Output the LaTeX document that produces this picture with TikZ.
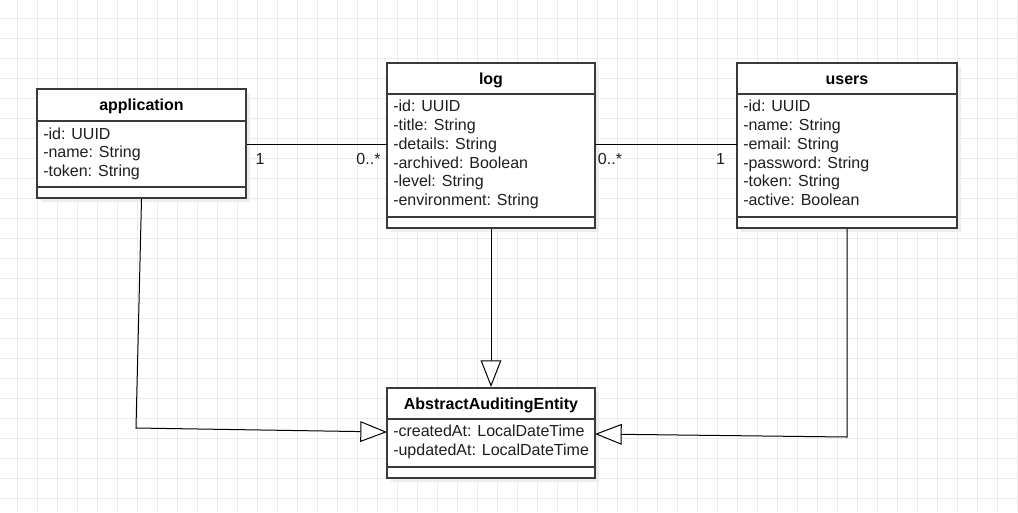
\documentclass[tikz,border=0pt]{standalone}
\usepackage{fontspec}
\setmainfont{Liberation Sans}
\usetikzlibrary{fit,shadows,arrows.meta}
\definecolor{gridc}{HTML}{EBEBEB}
\definecolor{boxc}{HTML}{3A3A3A}
\definecolor{txt}{HTML}{1E1E1E}
\definecolor{shad}{HTML}{EDEDED}
\tikzset{
  cls/.style={draw=boxc, line width=1.5pt, fill=white, inner sep=0pt,
    drop shadow={shadow xshift=3pt, shadow yshift=-3pt, fill=shad, opacity=1}},
  sep/.style={draw=boxc, line width=1.2pt},
  attr/.style={anchor=base west, inner sep=0pt, text=txt, font=\fontsize{12}{14}\selectfont},
  ttl/.style={anchor=base, inner sep=0pt, text=black, font=\fontsize{12}{14}\selectfont\bfseries},
  mult/.style={anchor=base, inner sep=0pt, text=txt, font=\fontsize{12}{14}\selectfont},
  assoc/.style={draw=black, line width=0.75pt},
  gen/.style={draw=black, line width=0.75pt, -{Triangle[open, length=20pt, width=15.5pt, fill=white]}}
}
\begin{document}
\begin{tikzpicture}[x=0.75pt, y=-0.75pt]
\useasboundingbox (0,0) rectangle (1018,512);
\fill[white] (0,0) rectangle (1018,512);
% grid
\foreach \gx in {17.3,37.3,...,1018} {\draw[gridc, line width=0.75pt] (\gx,0) -- (\gx,512);}
\foreach \gy in {18.3,38.3,...,512} {\draw[gridc, line width=0.75pt] (0,\gy) -- (1018,\gy);}

% classes
\node[cls, fit={(37,89) (246,198)}] (app) {};
\node[cls, fit={(387,63) (595,228)}] (log) {};
\node[cls, fit={(737,63) (957,228)}] (usr) {};
\node[cls, fit={(387,388) (595,478)}] (abs) {};

% separators
\draw[sep] (37,121) -- (246,121);
\draw[sep] (37,187) -- (246,187);
\draw[sep] (387,94) -- (595,94);
\draw[sep] (387,216.7) -- (595,216.7);
\draw[sep] (737,94) -- (957,94);
\draw[sep] (737,216.7) -- (957,216.7);
\draw[sep] (387,419) -- (595,419);
\draw[sep] (387,467) -- (595,467);

% titles
\node[ttl] (appt) at (141.5,110) {application};
\node[ttl] (logt) at (491,84) {log};
\node[ttl] (usrt) at (847,84) {users};
\node[ttl] (abst) at (491,409) {AbstractAuditingEntity};

% application attributes
\node[attr] (a1) at (43,139) {-id: UUID};
\node[attr] (a2) at (43,157.8) {-name: String};
\node[attr] (a3) at (43,176.6) {-token: String};

% log attributes
\node[attr] (l1) at (393,111.7) {-id: UUID};
\node[attr] (l2) at (393,130.5) {-title: String};
\node[attr] (l3) at (393,149.3) {-details: String};
\node[attr] (l4) at (393,168.1) {-archived: Boolean};
\node[attr] (l5) at (393,186.9) {-level: String};
\node[attr] (l6) at (393,205.7) {-environment: String};

% users attributes
\node[attr] (u1) at (743,111.7) {-id: UUID};
\node[attr] (u2) at (743,130.5) {-name: String};
\node[attr] (u3) at (743,149.3) {-email: String};
\node[attr] (u4) at (743,168.1) {-password: String};
\node[attr] (u5) at (743,186.9) {-token: String};
\node[attr] (u6) at (743,205.7) {-active: Boolean};

% abstract attributes
\node[attr] (e1) at (393,436.7) {-createdAt: LocalDateTime};
\node[attr] (e2) at (393,455.5) {-updatedAt: LocalDateTime};

% associations
\coordinate (la) at (387,144);
\coordinate (lb) at (595,144);
\coordinate (ua) at (737,144);
\draw[assoc] (app.east |- la) -- (la);
\draw[assoc] (lb) -- (ua);
\node[mult] (m1) at (260,164) {1};
\node[mult] (m2) at (368.5,164) {0..*};
\node[mult] (m3) at (610,164) {0..*};
\node[mult] (m4) at (720.5,164) {1};

% generalizations
\coordinate (appbend) at (136,428);
\coordinate (absw) at (387,432);
\coordinate (usrbend) at (847,437);
\coordinate (abse) at (595,434);
\draw[gen] (log.south) -- (abs.north);
\draw[gen] (app.south) -- (appbend) -- (absw);
\draw[gen] (usr.south) -- (usrbend) -- (abse);
\end{tikzpicture}
\end{document}
